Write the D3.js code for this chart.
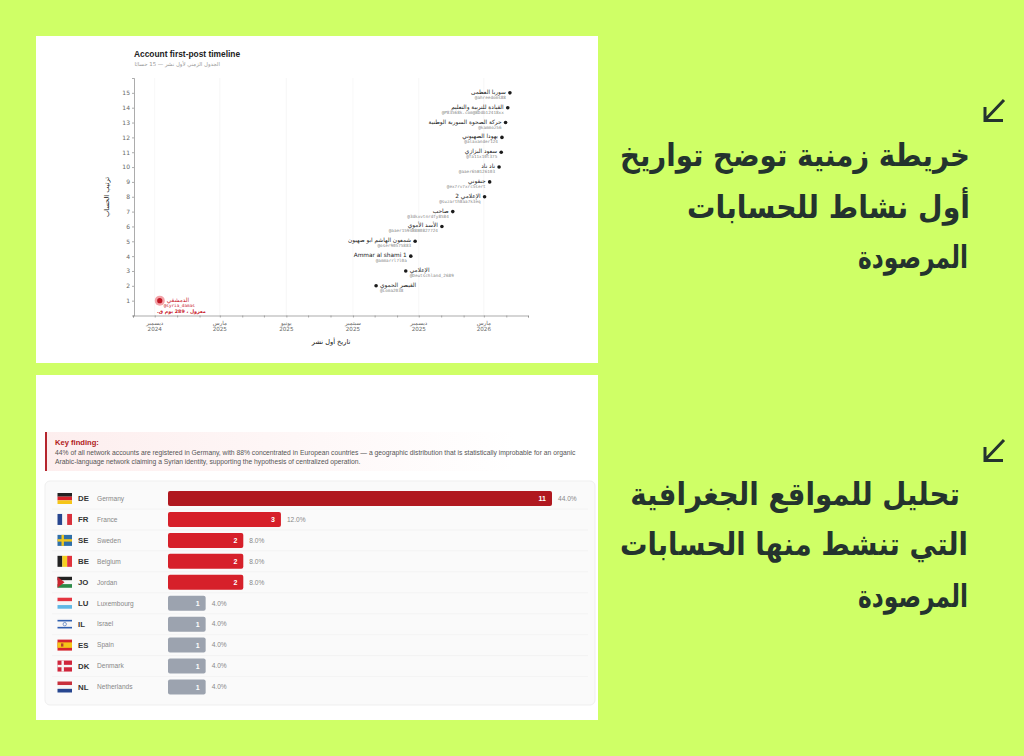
<!DOCTYPE html>
<html lang="ar">
<head>
<meta charset="utf-8">
<title>Account first-post timeline</title>
<script src="https://cdn.jsdelivr.net/npm/d3@7"></script>
<style>
  html, body { margin: 0; padding: 0; background: #cfff66; overflow: hidden; }
  svg { display: block; }
  text { font-family: "DejaVu Sans", sans-serif; }
  .latin { font-family: "Liberation Sans", sans-serif; }
  .axis path, .axis line { stroke: #888; }
  .axis text { fill: #666; font-size: 6px; }
  .handle { font-family: "DejaVu Sans Mono", monospace; font-size: 4.3px; fill: #888; }
  .name { font-size: 5.8px; fill: #222; }
  .caption { font-size: 31px; font-weight: bold; fill: #24332e; text-anchor: end; }
</style>
</head>
<body>
<svg id="okvir" width="1024" height="756"></svg>
<script>
// timeline
const ranks = [1, 2, 3, 4, 5, 6, 7, 8, 9, 10, 11, 12, 13, 14, 15]
const accountNames = ["الدمشقي", "القيصر الحموي", "الإعلامي", "Ammar al shami 1", "شمعون الهاشم ابو صهيون", "الأسد الأموي", "صاحب", "الإعلامي 2", "جنقوني", "ناد ناد", "سعود البزازي", "يهودا الصهيوني", "حركة الصحوة السورية الوطنية", "القيادة للتربية والتعليم", "سوريا العظمى"]
const accountHandles = ["@syria_damas", "@Loma2038", "@Deutschland_2689", "@ammarrl7l0a", "@oser90575883", "@aaer1594B8B0827724", "@3dkxvtnrdfy8584", "@suzarth8aa7k3eq", "@ex7rv7xrc5sert", "@aaer65B126103", "@fa11x10t375", "@alaxander124", "@kammoz56", "@P83568k.com@8Ddb12418xx", "@ahreedoms88"]
const firstPosts = ["2024-12-08", "2025-10-03", "2025-11-13", "2025-11-20", "2025-11-26", "2026-01-02", "2026-01-17", "2026-03-02", "2026-03-09", "2026-03-22", "2026-03-25", "2026-03-26", "2026-03-31", "2026-04-03", "2026-04-06"]
const majorMonths = ["2024-12-01", "2025-03-01", "2025-06-01", "2025-09-01", "2025-12-01", "2026-03-01"]
const majorMonthNames = ["ديسمبر", "مارس", "يونيو", "سبتمبر", "ديسمبر", "مارس"]
const majorYears = ["2024", "2025", "2025", "2025", "2025", "2026"]

// geography
const countryCodes = ["DE", "FR", "SE", "BE", "JO", "LU", "IL", "ES", "DK", "NL"]
const countryNames = ["Germany", "France", "Sweden", "Belgium", "Jordan", "Luxembourg", "Israel", "Spain", "Denmark", "Netherlands"]
const countryCounts = [11, 3, 2, 2, 2, 1, 1, 1, 1, 1]
const countryShares = ["44.0%", "12.0%", "8.0%", "8.0%", "8.0%", "4.0%", "4.0%", "4.0%", "4.0%", "4.0%"]

const okvir = d3.select("#okvir")
const parseDan = d3.utcParse("%Y-%m-%d")

okvir.append("rect").attr("width", 1024).attr("height", 756).attr("fill", "#cfff66")
okvir.append("rect").attr("x", 36).attr("y", 36).attr("width", 562).attr("height", 327).attr("fill", "#fff")
okvir.append("rect").attr("x", 36).attr("y", 375).attr("width", 562).attr("height", 345).attr("fill", "#fff")

crtajTimeline()
crtajZemlje()
crtajTekst()

function crtajTimeline() {
  const x = d3.scaleUtc()
    .domain([parseDan("2024-11-01"), parseDan("2026-05-01")])
    .range([133, 528])
  const y = d3.scaleLinear().domain([0, 16]).range([315.5, 78])
  const g = okvir.append("g")

  g.append("text").attr("class", "latin").attr("x", 134).attr("y", 57)
    .attr("font-size", 8.4).attr("font-weight", "bold").attr("fill", "#222")
    .text("Account first-post timeline")
  g.append("text").attr("x", 220).attr("y", 66).attr("text-anchor", "start")
    .attr("direction", "rtl").attr("font-size", 5.4).attr("fill", "#999")
    .text("الجدول الزمني لأول نشر — 15 حسابًا")

  // grid
  g.selectAll(".mreza").data(majorMonths).enter().append("line")
    .attr("class", "mreza")
    .attr("x1", d => x(parseDan(d))).attr("x2", d => x(parseDan(d)))
    .attr("y1", 78).attr("y2", 315.5)
    .attr("stroke", "#f4f4f4").attr("stroke-width", 0.7)

  const xAxis = d3.axisBottom(x).ticks(d3.utcMonth.every(1)).tickSize(2).tickFormat("")
  const xG = g.append("g").attr("class", "axis").attr("transform", "translate(0,315.5)").call(xAxis)
  xG.selectAll("path, line").attr("stroke-width", 0.7)

  const oznake = g.selectAll(".mjesec").data(majorMonths).enter().append("text")
    .attr("class", "mjesec").attr("text-anchor", "middle").attr("fill", "#666").attr("font-size", 5.6)
    .attr("transform", d => `translate(${x(parseDan(d))},0)`)
  oznake.append("tspan").attr("x", 0).attr("y", 325).text((d, i) => majorMonthNames[i])
  oznake.append("tspan").attr("x", 0).attr("y", 331).text((d, i) => majorYears[i])

  const yAxis = d3.axisLeft(y).tickValues(ranks).tickSize(2).tickPadding(2).tickFormat(d3.format("d"))
  const yG = g.append("g").attr("class", "axis").attr("transform", "translate(134,0)").call(yAxis)
  yG.selectAll("path, line").attr("stroke-width", 0.7)

  g.append("text").attr("x", 331).attr("y", 344).attr("text-anchor", "middle")
    .attr("font-size", 6.6).attr("fill", "#111").text("تاريخ أول نشر")
  g.append("text").attr("transform", "translate(109,197) rotate(-90)").attr("text-anchor", "middle")
    .attr("font-size", 6.6).attr("fill", "#111").text("ترتيب الحساب")

  ranks.forEach((r, i) => {
    const cx = x(parseDan(firstPosts[i]))
    const cy = y(r)
    const prvi = r === 1
    const desno = r <= 3
    const lx = desno ? cx + 4 : cx - 4
    const anchor = desno ? "start" : "end"
    if (prvi) {
      g.append("circle").attr("cx", cx).attr("cy", cy).attr("r", 5).attr("fill", "#f3a3a8")
    }
    g.append("circle").attr("cx", cx).attr("cy", cy).attr("r", prvi ? 2.6 : 1.8)
      .attr("fill", prvi ? "#c01825" : "#1b1b1b")
    g.append("text").attr("class", "name").attr("x", lx + (prvi ? 3 : 0)).attr("y", cy + 1)
      .attr("text-anchor", anchor).style("fill", prvi ? "#c8202c" : null).text(accountNames[i])
    g.append("text").attr("class", "handle").attr("x", lx).attr("y", cy + 6)
      .attr("text-anchor", anchor).style("fill", prvi ? "#c8202c" : null).text(accountHandles[i])
    if (prvi) {
      g.append("text").attr("x", lx + 42).attr("y", cy + 12.5).attr("text-anchor", "start")
        .attr("direction", "rtl").attr("font-size", 4.8).attr("font-weight", "bold").attr("fill", "#c8202c")
        .text("معزول ، 289 يوم ق.")
    }
  })
}

function crtajZastavu(g, code, fx, fy) {
  const w = 14.5, h = 11
  const pruge = (boje, vodoravno) => boje.forEach((b, i) => {
    g.append("rect")
      .attr("x", vodoravno ? fx : fx + i * w / boje.length)
      .attr("y", vodoravno ? fy + i * h / boje.length : fy)
      .attr("width", vodoravno ? w : w / boje.length)
      .attr("height", vodoravno ? h / boje.length : h)
      .attr("fill", b)
  })
  const krst = (pozadina, boja) => {
    g.append("rect").attr("x", fx).attr("y", fy).attr("width", w).attr("height", h).attr("fill", pozadina)
    g.append("rect").attr("x", fx + 4).attr("y", fy).attr("width", 2.4).attr("height", h).attr("fill", boja)
    g.append("rect").attr("x", fx).attr("y", fy + h / 2 - 1.2).attr("width", w).attr("height", 2.4).attr("fill", boja)
  }
  if (code === "DE") pruge(["#222", "#d8232a", "#f5c518"], true)
  if (code === "FR") pruge(["#27468f", "#f6f6f6", "#d9303c"], false)
  if (code === "SE") krst("#2f6fa8", "#f2c81e")
  if (code === "BE") pruge(["#222", "#f5d020", "#e0323c"], false)
  if (code === "JO") {
    pruge(["#222", "#f6f6f6", "#2c8a48"], true)
    g.append("path").attr("d", `M${fx},${fy}L${fx + 7},${fy + h / 2}L${fx},${fy + h}Z`).attr("fill", "#c9252f")
  }
  if (code === "LU") pruge(["#e4343f", "#f6f6f6", "#5fb8e6"], true)
  if (code === "IL") {
    pruge(["#f6f6f6"], true)
    g.append("rect").attr("x", fx).attr("y", fy + 1.2).attr("width", w).attr("height", 1.6).attr("fill", "#2f5fb0")
    g.append("rect").attr("x", fx).attr("y", fy + h - 2.8).attr("width", w).attr("height", 1.6).attr("fill", "#2f5fb0")
    g.append("circle").attr("cx", fx + w / 2).attr("cy", fy + h / 2).attr("r", 1.7)
      .attr("fill", "none").attr("stroke", "#2f5fb0").attr("stroke-width", 0.6)
  }
  if (code === "ES") {
    g.append("rect").attr("x", fx).attr("y", fy).attr("width", w).attr("height", h).attr("fill", "#d6252c")
    g.append("rect").attr("x", fx).attr("y", fy + h / 4).attr("width", w).attr("height", h / 2).attr("fill", "#f5c518")
    g.append("rect").attr("x", fx + 3.5).attr("y", fy + 3.8).attr("width", 2.4).attr("height", 3.2).attr("fill", "#b5452b")
  }
  if (code === "DK") krst("#d0263c", "#f6f6f6")
  if (code === "NL") pruge(["#c8303c", "#f6f6f6", "#27468f"], true)
}

function crtajZemlje() {
  const defs = okvir.append("defs")
  const grad = defs.append("linearGradient").attr("id", "nalaz")
  grad.append("stop").attr("offset", "0%").attr("stop-color", "#fdeeee")
  grad.append("stop").attr("offset", "100%").attr("stop-color", "#ffffff")

  const g = okvir.append("g")
  g.append("rect").attr("x", 45).attr("y", 432).attr("width", 470).attr("height", 39).attr("fill", "url(#nalaz)")
  g.append("rect").attr("x", 45).attr("y", 432).attr("width", 2).attr("height", 39).attr("fill", "#b5262e")
  g.append("text").attr("class", "latin").attr("x", 55).attr("y", 445)
    .attr("font-size", 7.6).attr("font-weight", "bold").attr("fill", "#b01a20").text("Key finding:")
  g.append("text").attr("class", "latin").attr("x", 55).attr("y", 454.5).attr("font-size", 6.75).attr("fill", "#555")
    .text("44% of all network accounts are registered in Germany, with 88% concentrated in European countries — a geographic distribution that is statistically improbable for an organic")
  g.append("text").attr("class", "latin").attr("x", 55).attr("y", 464).attr("font-size", 6.75).attr("fill", "#555")
    .text("Arabic-language network claiming a Syrian identity, supporting the hypothesis of centralized operation.")

  g.append("rect").attr("x", 45).attr("y", 481).attr("width", 550).attr("height", 224).attr("rx", 5)
    .attr("fill", "#fafafa").attr("stroke", "#efefef")

  const y = d3.scalePoint().domain(countryCodes).range([498.5, 687])
  // the longest bar is capped at the width of the track
  const x = d3.scaleLinear().domain([0, 10.2]).range([0, 384]).clamp(true)
  const boja = v => v >= 11 ? "#b0181f" : v >= 2 ? "#d6202a" : "#9ca3af"
  const korak = y.step()

  const redovi = g.selectAll(".red").data(countryCodes).enter().append("g")
    .attr("class", "red")
    .attr("transform", d => `translate(0,${y(d)})`)

  redovi.filter((d, i) => i < countryCodes.length - 1).append("line")
    .attr("x1", 52).attr("x2", 588).attr("y1", korak / 2).attr("y2", korak / 2)
    .attr("stroke", "#f0f0f0").attr("stroke-width", 0.7)

  redovi.each(function (d) { crtajZastavu(d3.select(this), d, 57.5, -5.5) })

  redovi.append("text").attr("class", "latin").attr("x", 78).attr("y", 2.8)
    .attr("font-size", 7.8).attr("font-weight", "bold").attr("fill", "#333").text(d => d)
  redovi.append("text").attr("class", "latin").attr("x", 97).attr("y", 2.3)
    .attr("font-size", 6.6).attr("fill", "#888").text((d, i) => countryNames[i])
  redovi.append("rect").attr("x", 168).attr("y", -7.5).attr("height", 15).attr("rx", 2)
    .attr("width", (d, i) => x(countryCounts[i]))
    .attr("fill", (d, i) => boja(countryCounts[i]))
  redovi.append("text").attr("class", "latin")
    .attr("x", (d, i) => 168 + x(countryCounts[i]) - 6).attr("y", 2.5).attr("text-anchor", "end")
    .attr("font-size", 7).attr("font-weight", "bold").attr("fill", "#fff").text((d, i) => countryCounts[i])
  redovi.append("text").attr("class", "latin")
    .attr("x", (d, i) => 168 + x(countryCounts[i]) + 6).attr("y", 2.3)
    .attr("font-size", 6.6).attr("fill", "#888").text((d, i) => countryShares[i])
}

function crtajTekst() {
  const blokovi = [
    {arrow: 100, lines: ["خريطة زمنية توضح تواريخ", "أول نشاط للحسابات", "المرصودة"], ys: [166, 218, 268], right: [970, 970, 968], widths: [350, 283, 110]},
    {arrow: 440, lines: ["تحليل للمواقع الجغرافية", "التي تنشط منها الحسابات", "المرصودة"], ys: [505, 555, 607], right: [960, 968, 968], widths: [330, 348, 110]}
  ]
  blokovi.forEach(b => {
    okvir.append("path")
      .attr("d", `M1004,${b.arrow}L985,${b.arrow + 20}M985,${b.arrow + 7}V${b.arrow + 20.5}H1003`)
      .attr("fill", "none").attr("stroke", "#24332e").attr("stroke-width", 3)
    b.lines.forEach((t, i) => {
      const red = okvir.append("text").attr("class", "caption").text(t)
      // DejaVu runs wider than the original face, squeeze each line to its width
      const sx = b.widths[i] / red.node().getComputedTextLength()
      red.attr("transform", `translate(${b.right[i]},${b.ys[i]}) scale(${sx},1)`)
    })
  })
}
</script>
</body>
</html>
